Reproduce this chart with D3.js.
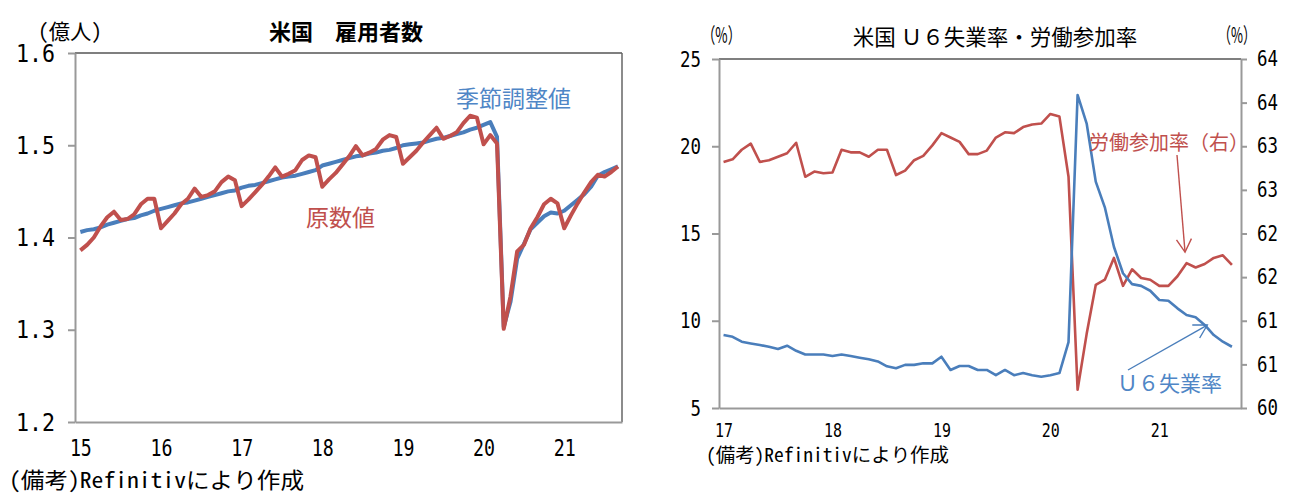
<!DOCTYPE html>
<html>
<head>
    <meta charset="utf-8">
    <title>米国 雇用者数 / U6失業率・労働参加率</title>
    <style>
        body { margin: 0; background: #fff; }
    </style>
</head>
<body>

<main></main>

<script src="https://cdn.jsdelivr.net/npm/d3@7"></script>
<script>
    // 左: 雇用者数 (億人), 2015/01 - 2021/09 月次
    var empYears = ["15", "16", "17", "18", "19", "20", "21"];
    var empYTicks = [1.2, 1.3, 1.4, 1.5, 1.6];
    // 季節調整値
    var empSA = [
        1.406, 1.408, 1.409, 1.411, 1.414, 1.416, 1.418, 1.420, 1.421, 1.424, 1.426, 1.429,
        1.431, 1.433, 1.435, 1.437, 1.438, 1.440, 1.442, 1.444, 1.446, 1.448, 1.450, 1.451,
        1.454, 1.456, 1.457, 1.459, 1.461, 1.463, 1.465, 1.466, 1.467, 1.469, 1.471, 1.473,
        1.478, 1.480, 1.482, 1.484, 1.486, 1.488, 1.489, 1.491, 1.492, 1.494, 1.495, 1.497,
        1.500, 1.501, 1.502, 1.503, 1.505, 1.507, 1.508, 1.510, 1.512, 1.514, 1.517, 1.519,
        1.522, 1.525, 1.509, 1.303, 1.330, 1.377, 1.393, 1.409, 1.416, 1.423, 1.427, 1.426,
        1.429, 1.435, 1.441, 1.447, 1.455, 1.467, 1.471, 1.474, 1.477
    ];
    // 原数値
    var empNSA = [
        1.386, 1.392, 1.400, 1.412, 1.422, 1.428, 1.419, 1.420, 1.425, 1.436, 1.442, 1.442,
        1.410, 1.418, 1.426, 1.436, 1.442, 1.453, 1.444, 1.446, 1.450, 1.460, 1.466, 1.462,
        1.434, 1.441, 1.449, 1.457, 1.466, 1.476, 1.466, 1.469, 1.473, 1.484, 1.489, 1.487,
        1.455, 1.463, 1.470, 1.479, 1.488, 1.499, 1.489, 1.492, 1.496, 1.506, 1.511, 1.509,
        1.480, 1.487, 1.494, 1.503, 1.511, 1.519, 1.507, 1.510, 1.514, 1.524, 1.532, 1.530,
        1.501, 1.511, 1.502, 1.301, 1.336, 1.385, 1.392, 1.410, 1.422, 1.436, 1.442, 1.437,
        1.410, 1.424, 1.437, 1.449, 1.460, 1.468, 1.466, 1.471, 1.477
    ];

    // 右: U6失業率 (左軸 %), 労働参加率 (右軸 %), 2017/01 - 2021/09 月次
    var rateYears = ["17", "18", "19", "20", "21"];
    var u6Ticks = [5, 10, 15, 20, 25];
    var lfprTicks = [60, 60.5, 61, 61.5, 62, 62.5, 63, 63.5, 64];
    var lfprTickLabels = ["60", "61", "61", "62", "62", "63", "63", "64", "64"];
    var u6 = [
        9.18, 9.08, 8.80, 8.70, 8.61, 8.51, 8.38, 8.57, 8.28, 8.07, 8.07, 8.07,
        7.98, 8.07, 7.98, 7.88, 7.79, 7.67, 7.39, 7.28, 7.47, 7.47, 7.56, 7.56,
        7.94, 7.18, 7.41, 7.41, 7.18, 7.18, 6.88, 7.18, 6.88, 7.00, 6.88, 6.79,
        6.88, 7.00, 8.77, 22.94, 21.30, 17.97, 16.50, 14.24, 12.72, 12.10, 12.00, 11.72,
        11.19, 11.15, 10.71, 10.33, 10.20, 9.76, 9.18, 8.80, 8.51
    ];
    var lfpr = [
        62.82, 62.85, 62.96, 63.03, 62.82, 62.84, 62.88, 62.92, 63.04, 62.65, 62.71, 62.69,
        62.70, 62.96, 62.93, 62.93, 62.88, 62.96, 62.96, 62.67, 62.72, 62.84, 62.89, 63.01,
        63.15, 63.10, 63.05, 62.91, 62.91, 62.95, 63.10, 63.16, 63.15, 63.22, 63.25, 63.26,
        63.37, 63.34, 62.65, 60.21, 60.85, 61.41, 61.47, 61.72, 61.40, 61.59, 61.49, 61.47,
        61.40, 61.40, 61.51, 61.66, 61.61, 61.65, 61.72, 61.75, 61.64
    ];

    var red = "#c0504d";
    var blue = "#4a7ebb";
    var axisGray = "#999";
    var jp = '"Noto Sans CJK JP", sans-serif';
    var jpMono = '"Noto Sans Mono CJK JP", "Noto Sans CJK JP", sans-serif';
    var mono = '"DejaVu Sans Mono", monospace';

    var width = 1301;
    var height = 503;
    var svg = d3.select("main")
        .append("svg")
        .attr("width", width)
        .attr("height", height)
        .style("display", "block");

    svg.append("rect")
        .attr("width", width)
        .attr("height", height)
        .attr("fill", "#fff");

    // 数字ラベルを細長い等幅風にする
    function narrowDigits(sel, size, charW) {
        sel.attr("font-family", mono)
            .attr("font-size", size)
            .attr("fill", "#000")
            .attr("lengthAdjust", "spacingAndGlyphs")
            .attr("textLength", function () {
                return this.textContent.length * charW;
            });
    }

    function styleAxis(g) {
        g.select(".domain").attr("stroke", axisGray).attr("stroke-width", 2);
        g.selectAll(".tick line").attr("stroke", axisGray).attr("stroke-width", 2);
    }

    // ---------------- 左チャート ----------------
    var xL = d3.scaleLinear().domain([-0.8, 80.6]).range([75, 622]);
    var yL = d3.scaleLinear().domain([1.2, 1.6]).range([422, 53]);

    var gL = svg.append("g");

    // 枠 (上・右)
    gL.append("line")
        .attr("x1", 75).attr("x2", 622).attr("y1", 53).attr("y2", 53)
        .attr("stroke", "#555").attr("stroke-width", 1.5);
    gL.append("line")
        .attr("x1", 622).attr("x2", 622).attr("y1", 53).attr("y2", 422)
        .attr("stroke", "#666").attr("stroke-width", 1.5);

    var axL = gL.append("g")
        .attr("transform", "translate(75,0)")
        .call(d3.axisLeft(yL)
            .tickValues(empYTicks)
            .tickFormat(d3.format(".1f"))
            .tickSize(7)
            .tickSizeOuter(0)
            .tickPadding(13));
    styleAxis(axL);
    narrowDigits(axL.selectAll("text"), 25, 13);

    var axLB = gL.append("g")
        .attr("transform", "translate(0,422)")
        .call(d3.axisBottom(xL)
            .tickValues(empYears.map(function (d, i) { return i * 12; }))
            .tickFormat(function (d, i) { return empYears[i]; })
            .tickSize(0)
            .tickSizeOuter(0));
    styleAxis(axLB);
    axLB.selectAll("text").attr("dy", null).attr("y", 34);
    narrowDigits(axLB.selectAll("text"), 23, 11);

    var lineL = function (vals) {
        return d3.line()
            .x(function (d, i) { return xL(i); })
            .y(function (d) { return yL(d); })(vals);
    };

    gL.append("path")
        .attr("d", lineL(empSA))
        .attr("fill", "none")
        .attr("stroke", blue)
        .attr("stroke-width", 4)
        .attr("stroke-linejoin", "round");

    gL.append("path")
        .attr("d", lineL(empNSA))
        .attr("fill", "none")
        .attr("stroke", red)
        .attr("stroke-width", 4)
        .attr("stroke-linejoin", "round");

    gL.append("text")
        .attr("x", 346).attr("y", 40)
        .attr("text-anchor", "middle")
        .attr("font-family", jp).attr("font-size", 22).attr("font-weight", "bold")
        .text("米国　雇用者数");

    gL.append("text")
        .attr("x", 38).attr("y", 39)
        .attr("font-family", jpMono).attr("font-size", 21)
        .attr("textLength", 64).attr("lengthAdjust", "spacingAndGlyphs")
        .text("(億人)");

    gL.append("text")
        .attr("x", 456).attr("y", 107)
        .attr("font-family", jp).attr("font-size", 23)
        .attr("fill", "#4f86c6")
        .text("季節調整値");

    gL.append("text")
        .attr("x", 306).attr("y", 226)
        .attr("font-family", jp).attr("font-size", 23)
        .attr("fill", red)
        .text("原数値");

    gL.append("text")
        .attr("x", 9).attr("y", 488)
        .attr("font-family", jpMono).attr("font-size", 22)
        .attr("textLength", 295).attr("lengthAdjust", "spacingAndGlyphs")
        .text("(備考)Refinitivにより作成");

    // ---------------- 右チャート ----------------
    var xR = d3.scaleLinear().domain([-0.5, 57]).range([719, 1241]);
    var yR1 = d3.scaleLinear().domain([5, 25]).range([408, 59]);
    var yR2 = d3.scaleLinear().domain([60, 64]).range([408, 59]);

    var gR = svg.append("g");

    gR.append("line")
        .attr("x1", 719).attr("x2", 1241).attr("y1", 59).attr("y2", 59)
        .attr("stroke", "#555").attr("stroke-width", 1.5);

    var axR1 = gR.append("g")
        .attr("transform", "translate(719,0)")
        .call(d3.axisLeft(yR1)
            .tickValues(u6Ticks)
            .tickSize(7)
            .tickSizeOuter(0)
            .tickPadding(11));
    styleAxis(axR1);
    narrowDigits(axR1.selectAll("text"), 22, 10.5);

    var axR2 = gR.append("g")
        .attr("transform", "translate(1241,0)")
        .call(d3.axisRight(yR2)
            .tickValues(lfprTicks)
            .tickFormat(function (d, i) { return lfprTickLabels[i]; })
            .tickSize(6)
            .tickSizeOuter(0)
            .tickPadding(10));
    styleAxis(axR2);
    narrowDigits(axR2.selectAll("text"), 21, 10.5);

    var axRB = gR.append("g")
        .attr("transform", "translate(0,408)")
        .call(d3.axisBottom(xR)
            .tickValues(rateYears.map(function (d, i) { return i * 12; }))
            .tickFormat(function (d, i) { return rateYears[i]; })
            .tickSize(0)
            .tickSizeOuter(0));
    styleAxis(axRB);
    axRB.selectAll("text").attr("dy", null).attr("y", 29);
    narrowDigits(axRB.selectAll("text"), 19, 9);

    gR.append("path")
        .attr("d", d3.line()
            .x(function (d, i) { return xR(i); })
            .y(function (d) { return yR2(d); })(lfpr))
        .attr("fill", "none")
        .attr("stroke", red)
        .attr("stroke-width", 2.6)
        .attr("stroke-linejoin", "round");

    gR.append("path")
        .attr("d", d3.line()
            .x(function (d, i) { return xR(i); })
            .y(function (d) { return yR1(d); })(u6))
        .attr("fill", "none")
        .attr("stroke", blue)
        .attr("stroke-width", 2.6)
        .attr("stroke-linejoin", "round");

    // 注釈の矢印 (開いた矢じり)
    function arrow(x1, y1, x2, y2, color) {
        var a = Math.atan2(y2 - y1, x2 - x1) + Math.PI;
        var len = 15, spread = Math.PI / 6;
        var g = gR.append("g")
            .attr("stroke", color)
            .attr("stroke-width", 1.4)
            .attr("fill", "none");
        g.append("line")
            .attr("x1", x1).attr("y1", y1)
            .attr("x2", x2).attr("y2", y2);
        g.append("polyline")
            .attr("points", [
                [x2 + len * Math.cos(a - spread), y2 + len * Math.sin(a - spread)],
                [x2, y2],
                [x2 + len * Math.cos(a + spread), y2 + len * Math.sin(a + spread)]
            ].join(" "));
    }

    arrow(1177, 155, xR(51) - 1.5, yR2(lfpr[51]) - 11, red);
    arrow(1128, 370, xR(54) - 6.5, yR1(u6[54]) - 10, blue);

    gR.append("text")
        .attr("x", 995).attr("y", 45)
        .attr("text-anchor", "middle")
        .attr("font-family", jp).attr("font-size", 21.5)
        .text("米国 Ｕ６失業率・労働参加率");

    gR.append("text")
        .attr("x", 702).attr("y", 43)
        .attr("font-family", jp).attr("font-size", 21)
        .attr("textLength", 39).attr("lengthAdjust", "spacingAndGlyphs")
        .text("（%）");

    gR.append("text")
        .attr("x", 1218).attr("y", 43)
        .attr("font-family", jp).attr("font-size", 21)
        .attr("textLength", 38).attr("lengthAdjust", "spacingAndGlyphs")
        .text("（%）");

    gR.append("text")
        .attr("x", 1089).attr("y", 150)
        .attr("font-family", jp).attr("font-size", 20)
        .attr("fill", red)
        .text("労働参加率（右）");

    gR.append("text")
        .attr("x", 1117).attr("y", 391)
        .attr("font-family", jp).attr("font-size", 21)
        .attr("fill", "#4f86c6")
        .text("Ｕ６失業率");

    gR.append("text")
        .attr("x", 706).attr("y", 462)
        .attr("font-family", jpMono).attr("font-size", 19)
        .attr("textLength", 243).attr("lengthAdjust", "spacingAndGlyphs")
        .text("(備考)Refinitivにより作成");
</script>
</body>
</html>
